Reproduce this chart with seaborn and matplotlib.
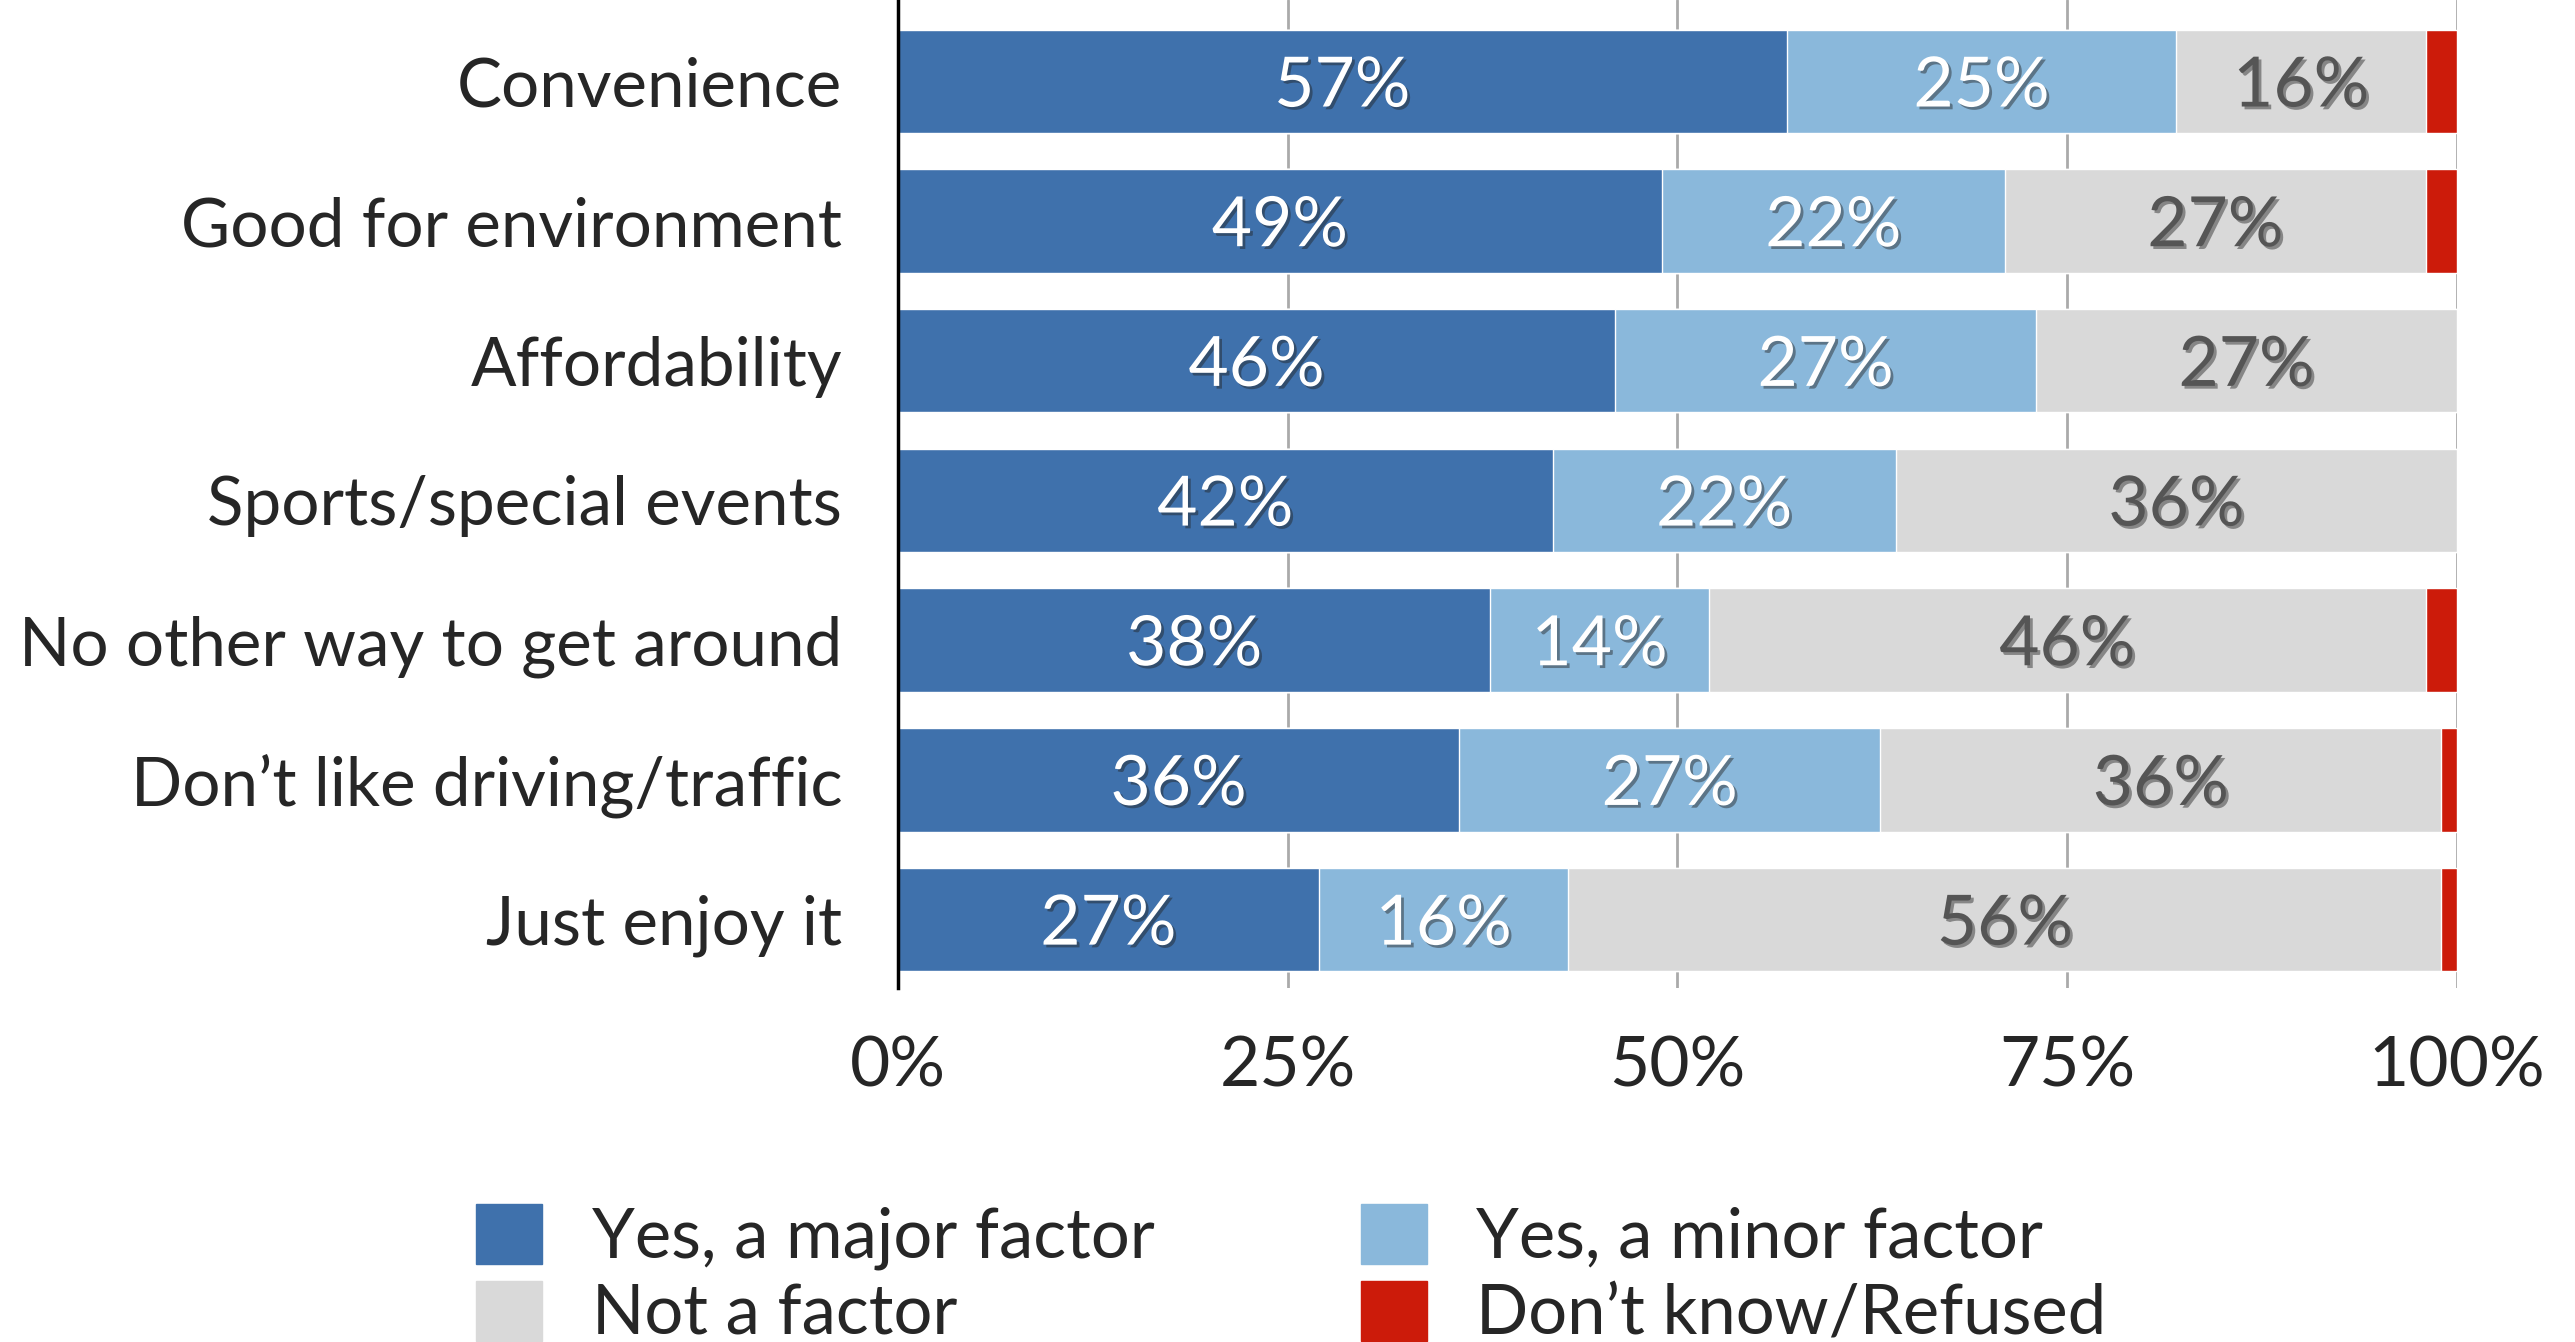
import seaborn as sns
import matplotlib.pyplot as plt
import matplotlib.patheffects as pe
from matplotlib.patches import Patch
import pandas as pd

reasons = ['Convenience', 'Good for environment', 'Affordability',
           'Sports/special events', 'No other way to get around',
           'Don\u2019t like driving/traffic', 'Just enjoy it']
major = [57, 49, 46, 42, 38, 36, 27]
minor = [25, 22, 27, 22, 14, 27, 16]
not_factor = [16, 27, 27, 36, 46, 36, 56]
dont_know = [2, 2, 0, 0.3, 2, 1, 1]

series = ['Yes, a major factor', 'Yes, a minor factor', 'Not a factor', 'Don\u2019t know/Refused']
colors = ['#3F71AC', '#8AB8DB', '#D9D9D9', '#CC1B0A']

df = pd.DataFrame({'reason': reasons, 'major': major, 'minor': minor,
                   'not': not_factor, 'dk': dont_know})
df['c1'] = df['major']
df['c2'] = df['c1'] + df['minor']
df['c3'] = df['c2'] + df['not']
df['c4'] = df['c3'] + df['dk']

sns.set_style('white')
plt.rcParams['font.family'] = ['Lato', 'DejaVu Sans']

fig = plt.figure(figsize=(25.75, 13.42), dpi=100)
ax = fig.add_axes([0.3487, 0.2638, 0.9542 - 0.3487, 0.7362])

# overlay cumulative totals, widest first
for col, c in zip(['c4', 'c3', 'c2', 'c1'], colors[::-1]):
    sns.barplot(data=df, x=col, y='reason', color=c, width=0.74,
                orient='h', ax=ax, saturation=1, zorder=2)

shadow = [pe.withSimplePatchShadow(offset=(2, -2), shadow_rgbFace='#222222', alpha=0.45)]
for i, row in df.iterrows():
    lefts = [0, row['c1'], row['c2']]
    vals = [row['major'], row['minor'], row['not']]
    tcol = ['white', 'white', '#555555']
    for l, v, tc in zip(lefts, vals, tcol):
        ax.text(l + v / 2, i + 0.04, f'{v:.0f}%', ha='center', va='center',
                fontsize=50, color=tc, path_effects=shadow, zorder=5)

ax.set_xlim(0, 100)
ax.set_ylim(6.49, -0.583)
ax.set_xticks([0, 25, 50, 75, 100])
ax.set_xticklabels(['0%', '25%', '50%', '75%', '100%'])
ax.set_xlabel('')
ax.set_ylabel('')
ax.xaxis.grid(True, color='#AAAAAA', linewidth=2, zorder=0)
ax.set_axisbelow(True)
ax.tick_params(axis='x', length=0, pad=34, labelsize=50)
ax.tick_params(axis='y', length=0, pad=40, labelsize=48.5)
for s in ['top', 'right', 'bottom']:
    ax.spines[s].set_visible(False)
ax.spines['left'].set_color('black')
ax.spines['left'].set_linewidth(2.5)

handles = [Patch(color=c) for c in colors]
order = [0, 2, 1, 3]
fig.legend([handles[k] for k in order], [series[k] for k in order],
           ncol=2, loc='upper left', bbox_to_anchor=(0.185, 0.103),
           frameon=False, fontsize=49.5, handlelength=0.96, handleheight=0.96,
           handletextpad=0.72, columnspacing=3.0, labelspacing=0.17,
           borderpad=0, borderaxespad=0)

fig.savefig('out.png', dpi=100)
